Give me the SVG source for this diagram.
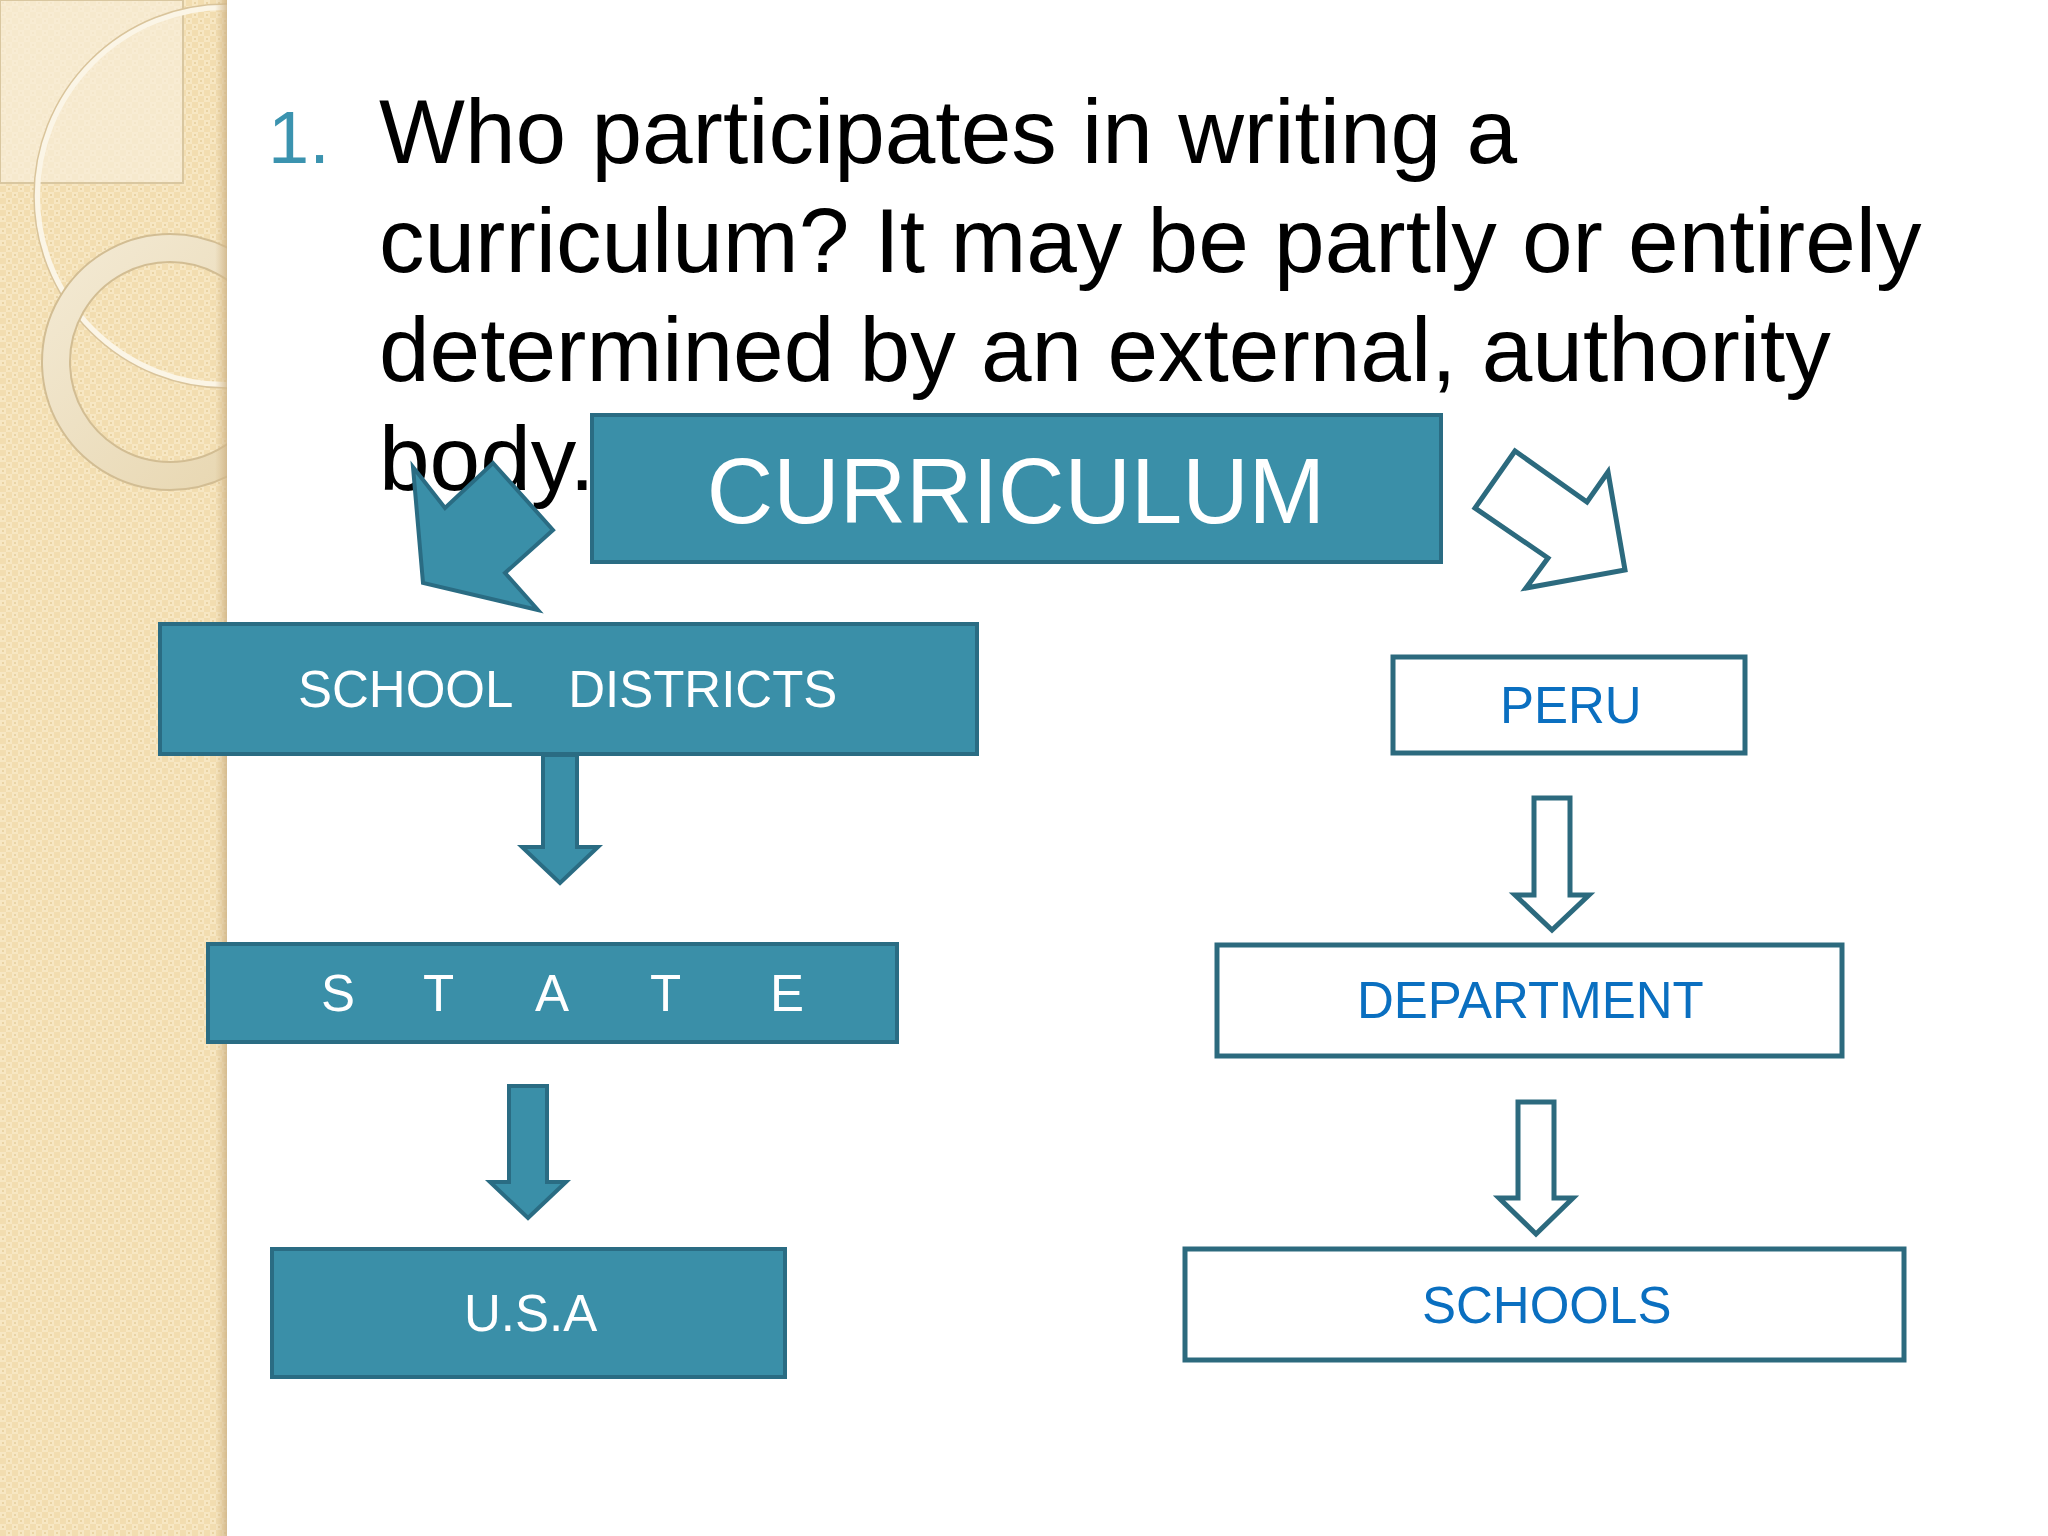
<svg xmlns="http://www.w3.org/2000/svg" width="2048" height="1536" viewBox="0 0 2048 1536">
<defs>
<style>
.title{font-family:"Liberation Sans",Arial,sans-serif;font-size:91px;fill:#000}
.num{font-family:"Liberation Sans",Arial,sans-serif;font-size:74px;fill:#3B93AF}
.fbox{fill:#3A8FA8;stroke:#2A6C83;stroke-width:4}
.obox{fill:#fff;stroke:#2C6A7E;stroke-width:5}
.farrow{fill:#3A8FA8;stroke:#2A6C83;stroke-width:4;stroke-linejoin:miter}
.oarrow{fill:#fff;stroke:#2C6A7E;stroke-width:5;stroke-linejoin:miter}
.wt{font-family:"Liberation Sans",Arial,sans-serif;font-size:51px;fill:#fff}
.bt{font-family:"Liberation Sans",Arial,sans-serif;font-size:51px;fill:#0A6FC0}
</style>
<pattern id="tex" width="12" height="12" patternUnits="userSpaceOnUse">
<rect width="12" height="12" fill="#F2DDB0"/>
<rect x="0" y="0" width="6" height="6" fill="#F7E7C3"/>
<rect x="6" y="6" width="6" height="6" fill="#F7E7C3"/>
<rect x="2" y="2" width="2" height="2" fill="#E9D3A4"/>
<rect x="8" y="8" width="2" height="2" fill="#E9D3A4"/>
</pattern>
<clipPath id="band"><rect x="0" y="0" width="227" height="1536"/></clipPath>
<linearGradient id="ringg" x1="0" y1="0" x2="1" y2="1">
<stop offset="0" stop-color="#F4EBD6"/>
<stop offset="1" stop-color="#E6D4AC"/>
</linearGradient>
<linearGradient id="edge" x1="0" y1="0" x2="1" y2="0">
<stop offset="0" stop-color="#D8BE90" stop-opacity="0"/>
<stop offset="1" stop-color="#CDB286" stop-opacity="0.8"/>
</linearGradient>
</defs>
<rect width="2048" height="1536" fill="#fff"/>
<g id="background-band" clip-path="url(#band)">
<rect x="0" y="0" width="227" height="1536" fill="url(#tex)"/>
<rect x="0" y="0" width="183" height="183" fill="#F8EEDA" fill-opacity="0.7" stroke="#D9C7A0" stroke-width="2"/>
<circle cx="226" cy="196" r="189" fill="none" stroke="#FBF5E6" stroke-width="6"/>
<circle cx="226" cy="196" r="192" fill="none" stroke="#D9C49B" stroke-width="1.5"/>
<path d="M170,234 a128,128 0 1,0 0.01,0 Z M170,262 a100,100 0 1,1 -0.01,0 Z" fill="url(#ringg)" fill-rule="evenodd" stroke="#D2BD93" stroke-width="2"/>
<rect x="215" y="0" width="12" height="1536" fill="url(#edge)"/>
</g>
<g id="title">
<text class="num" x="268" y="163">1.</text>
<text class="title" x="379" y="163">Who participates in writing a</text>
<text class="title" x="379" y="272">curriculum? It may be partly or entirely</text>
<text class="title" x="379" y="381">determined by an external, authority</text>
<text class="title" x="379" y="490">body.</text>
</g>
<g id="node-curriculum">
<rect class="fbox" x="592" y="415" width="849" height="147"/>
<text x="1016" y="523" font-family="Liberation Sans, Arial, sans-serif" font-size="92" fill="#fff" text-anchor="middle">CURRICULUM</text>
</g>
<g id="node-school-districts">
<rect class="fbox" x="160" y="624" width="817" height="130"/>
<text class="wt" x="298" y="707" xml:space="preserve">SCHOOL    DISTRICTS</text>
</g>
<g id="node-state">
<rect class="fbox" x="208" y="944" width="689" height="98"/>
<text class="wt" x="321 423 535 650 770" y="1011">STATE</text>
</g>
<g id="node-usa">
<rect class="fbox" x="272" y="1249" width="513" height="128"/>
<text class="wt" x="464" y="1331">U.S.A</text>
</g>
<g id="node-peru">
<rect class="obox" x="1393" y="657" width="352" height="96"/>
<text class="bt" x="1500" y="723">PERU</text>
</g>
<g id="node-department">
<rect class="obox" x="1217" y="945" width="625" height="111"/>
<text class="bt" x="1357" y="1018">DEPARTMENT</text>
</g>
<g id="node-schools">
<rect class="obox" x="1185" y="1249" width="719" height="111"/>
<text class="bt" x="1422" y="1323">SCHOOLS</text>
</g>
<g id="connectors">
<polygon class="farrow" points="493,463 553,530 505,573 538,610 423,583 413,467 445,508"/>
<polygon class="oarrow" points="1515,451 1475,508 1548,558 1526,588 1625,570 1608,472 1587,502"/>
<polygon class="farrow" points="543,755 577,755 577,847 598,847 560,883 522,847 543,847"/>
<polygon class="farrow" points="509,1086 547,1086 547,1182 566,1182 528,1218 490,1182 509,1182"/>
<polygon class="oarrow" points="1534,798 1570,798 1570,895 1589,895 1552,930 1515,895 1534,895"/>
<polygon class="oarrow" points="1518,1102 1554,1102 1554,1198 1573,1198 1536,1234 1499,1198 1518,1198"/>
</g>
</svg>
